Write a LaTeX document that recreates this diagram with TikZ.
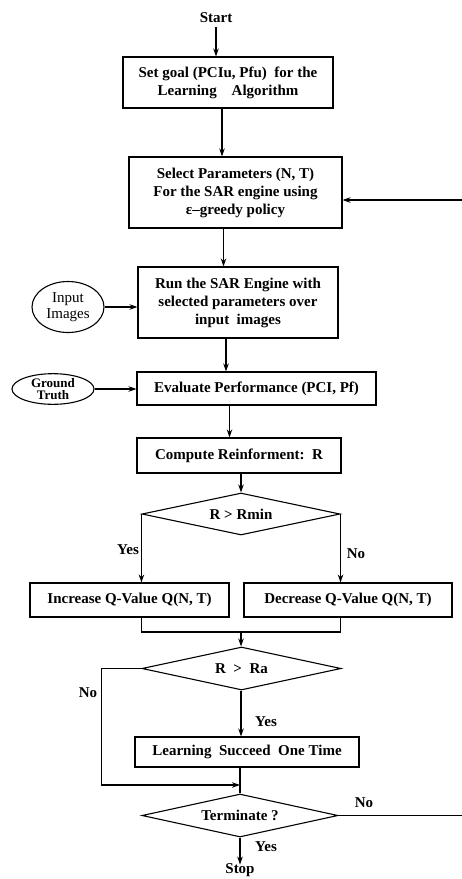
\documentclass[tikz,border=0pt]{standalone}
\usepackage{fontspec}
\setmainfont{Liberation Serif}
\usetikzlibrary{shapes.geometric, arrows.meta, positioning, calc}

\begin{document}
\begin{tikzpicture}[
    x=1pt, y=-1pt,
    font=\fontsize{15}{18}\selectfont\bfseries,
    line width=1.1pt,
    process/.style={rectangle, draw=black, inner sep=0pt, text centered, align=center},
    decision/.style={diamond, draw=black, aspect=4.7, inner sep=0pt, text centered},
    source/.style={ellipse, draw=black, inner sep=0pt, align=center, font=\fontsize{15}{16}\selectfont},
    answer/.style={inner sep=1pt},
    arrow/.style={-{Stealth[length=8pt, width=5.5pt]}}
]
\useasboundingbox (0,0) rectangle (462,879);

% Start
\node (start) at (216,18) {Start};

% Goal setting
\node[process, minimum width=210, minimum height=51] (goal) at (228,82.5)
    {Set goal (PCIu, Pfu)\ \ for the\\Learning\quad Algorithm};

% Parameter selection
\node[process, minimum width=213, minimum height=71] (select) at (235.5,192.5)
    {Select Parameters (N, T)\\For\ the\ SAR\ engine\ using\\ε–greedy policy};

% SAR engine run
\node[process, minimum width=200, minimum height=71] (run) at (238,302.5)
    {Run the SAR Engine with\\selected parameters over\\input\ \ images};
\node[source, minimum width=72, minimum height=51] (images) at (68,307) {Input\\Images};

% Evaluation
\node[process, minimum width=239, minimum height=33] (eval) at (256.5,388.5)
    {Evaluate Performance (PCI, Pf)};
\node[source, font=\fontsize{13}{12.5}\selectfont\bfseries, minimum width=82, minimum height=29] (truth) at (53,389) {Ground\\Truth};

% Reinforcement
\node[process, minimum width=204, minimum height=35] (reinf) at (239,455.5)
    {Compute Reinforment:\ \ R};

% First test
\node[decision, minimum width=198, minimum height=42] (rmin) at (241,514) {R > Rmin};

% Q-value update
\node[process, minimum width=199, minimum height=34] (inc) at (129.5,600)
    {Increase Q-Value Q(N, T)};
\node[process, minimum width=208, minimum height=34] (dec) at (348,600)
    {Decrease Q-Value Q(N, T)};

% Second test
\node[decision, minimum width=199, minimum height=43] (ra) at (241.5,668.5) {R\ \ >\ \ Ra};

% Success count
\node[process, minimum width=224, minimum height=30] (succ) at (247,752)
    {Learning\ \ Succeed\ \ One Time};

% Termination
\node[decision, minimum width=196, minimum height=43] (term) at (240,815.5) {Terminate ?};
\node (stop) at (240,870) {Stop};

% Junctions
\coordinate (join) at (241,632);
\coordinate (meet) at (240,785);
\coordinate (loopin) at (462,200);
\coordinate (loopout) at (462,815.5);

% Arrows
\draw[arrow] (start) -- (start |- goal.north);
\draw[arrow] ([xshift=-6]goal.south) -- ([xshift=-6]goal.south |- select.north);
\draw[arrow] ([xshift=-12]select.south) -- ([xshift=-12]select.south |- run.north);
\draw[arrow] ([xshift=-12]run.south) -- ([xshift=-12]run.south |- eval.north);
\draw[arrow] (images) -- (images -| run.west);
\draw[arrow] (truth) -- (truth -| eval.west);
\draw[arrow] ([xshift=-27]eval.south) -- ([xshift=-27]eval.south |- reinf.north);
\draw[arrow] (reinf.south -| rmin.north) -- (rmin.north);
\draw[arrow] (rmin.west) -- (rmin.west |- inc.north);
\draw[arrow] (rmin.east) -- (rmin.east |- dec.north);
\draw (rmin.west |- inc.south) -- (rmin.west |- join) -- (rmin.east |- join) -- (rmin.east |- dec.south);
\draw[arrow] (join) -- (join |- ra.north);
\draw[arrow] (ra.south -| join) -- (join |- succ.north);
\draw (meet |- succ.south) -- (meet |- term.north);
\draw[arrow] (ra.west) -- ++(-40,0) |- (meet);
\draw (term.east) -- (loopout);
\draw[arrow] (loopin) -- (select.east |- loopin);
\draw[arrow] (term.south) -- ([yshift=-5]term.south |- stop.north);

% Labels
\node[answer] (yes1) at (128,550) {Yes};
\node[answer] (no1) at (356,554) {No};
\node[answer] (no2) at (88,693) {No};
\node[answer] (yes2) at (266,722) {Yes};
\node[answer] (no3) at (364,803) {No};
\node[answer] (yes3) at (266,847) {Yes};

\end{tikzpicture}
\end{document}
